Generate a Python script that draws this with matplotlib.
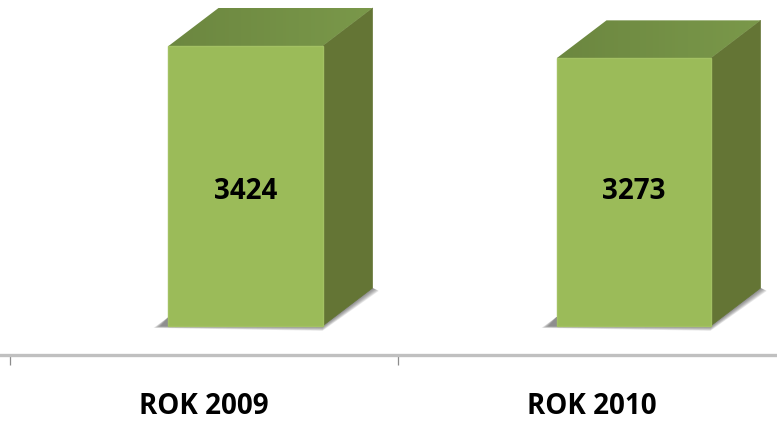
import numpy as np
import matplotlib
matplotlib.use("Agg")
import matplotlib.pyplot as plt
from matplotlib.colors import LinearSegmentedColormap
from matplotlib.patches import Polygon

categories = ["ROK 2009", "ROK 2010"]
values = [3424, 3273]

W, H = 777, 421
axis_px = 355      # axis line, pixels from top
zero_px = 326      # bar foot, pixels from top
px_per_unit = 280 / 3424
px_per_cat = 388
first_cat_px = 204
font = "Open Sans"

fig = plt.figure(figsize=(W / 100, H / 100), dpi=100)
ax = fig.add_axes([0, (H - axis_px) / H, 1, axis_px / H])

bar_w = 154 / px_per_cat
shift = 41.5 / px_per_cat   # bars sit right of the category centre
dx = 50 / px_per_cat        # depth of the 3d box
dy = 38 / px_per_unit
label_y = (326 - 191.5) / px_per_unit
top_cmap = LinearSegmentedColormap.from_list("top_face", ["#6c8740", "#7a984a"])

for i, v in enumerate(values):
    left = i + shift - bar_w / 2
    right = left + bar_w

    # soft shadow on the floor, stacked thin layers
    for grow in np.arange(8, 0, -1):
        gx = grow / px_per_cat
        gy = grow * 0.6 / px_per_unit
        shadow = Polygon([(left - 7 / px_per_cat - gx, -gy * 0.4), (right, -gy),
                          (right + dx + gx * 0.8, dy - gy * 0.6), (right + dx, dy),
                          (left, 9 / px_per_unit)],
                         closed=True, fc="#555555", ec="none", alpha=0.12, zorder=1)
        ax.add_patch(shadow)

    # side face
    ax.add_patch(Polygon([(right, 0), (right + dx, dy), (right + dx, v + dy), (right, v)],
                         closed=True, fc="#647535", ec="#647535", lw=0.5, zorder=2))

    # top face with a slight left to right gradient
    top = Polygon([(left, v), (left + dx, v + dy), (right + dx, v + dy), (right, v)],
                  closed=True, fc="none", ec="none", zorder=3)
    ax.add_patch(top)
    grad = ax.imshow(np.linspace(0, 1, 64).reshape(1, -1), extent=(left, right + dx, v, v + dy),
                     cmap=top_cmap, aspect="auto", zorder=3)
    grad.set_clip_path(top)

    # front face
    ax.bar(i + shift, v, width=bar_w, color="#9BBB59", edgecolor="#A3C163", linewidth=1, zorder=4)
    ax.text(i + shift, label_y, str(v), ha="center", va="center",
            fontsize=20, fontweight="bold", family=font, color="black", zorder=5)

for s in ["top", "left", "right"]:
    ax.spines[s].set_visible(False)
ax.spines["bottom"].set_color("#C0C0C0")
ax.spines["bottom"].set_linewidth(2.4)
ax.patch.set_alpha(0)

ax.set_yticks([])
ax.set_xticks([-0.5, 0.5, 1.5])
ax.set_xticklabels([])
ax.tick_params(axis="x", which="major", length=7, width=0.9, color="#8c8c8c")
ax.set_xticks(range(len(categories)), minor=True)
ax.set_xticklabels(categories, minor=True, fontsize=20, fontweight="bold", family=font)
ax.tick_params(axis="x", which="minor", length=0, pad=27)

# one category = 388 px, y scale so that the bars start at zero_px
ax.set_xlim(-first_cat_px / px_per_cat, (W - first_cat_px) / px_per_cat)
ax.set_ylim(-(axis_px - zero_px) / px_per_unit, zero_px / px_per_unit)

fig.savefig("out.png", dpi=100)
